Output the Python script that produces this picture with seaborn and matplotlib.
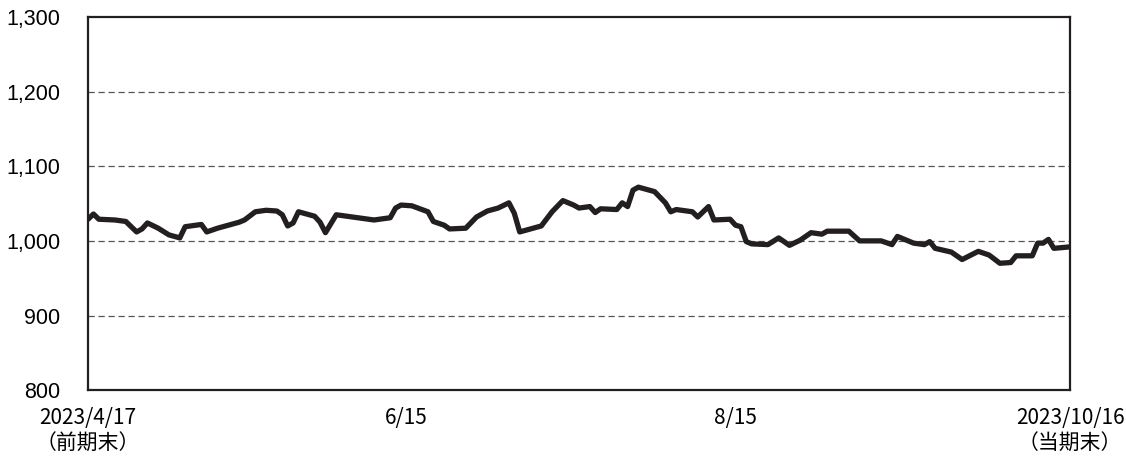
import pandas as pd
import seaborn as sns
import matplotlib.pyplot as plt

# Values (days after 2023/4/17, index level)
day_offsets = [0, 1, 2, 5, 7, 9, 10, 11, 13, 15, 17, 18, 21, 22, 24, 27, 28, 29,
               31, 33, 35, 36, 37, 38, 39, 42, 43, 44, 46, 49, 53, 56, 57, 58, 60,
               63, 64, 66, 67, 70, 72, 74, 76, 78, 79, 80, 82, 84, 86, 88, 90, 91,
               93, 94, 95, 98, 99, 100, 101, 102, 105, 107, 108, 109, 112, 113, 115,
               116, 119, 120, 121, 122, 123, 126, 128, 130, 132, 134, 136, 137, 141,
               143, 147, 149, 150, 153, 155, 156, 157, 160, 162, 165, 167, 169, 171,
               172, 175, 176, 177, 178, 179, 182]
values = [1029, 1036, 1029, 1028, 1026, 1012, 1016, 1024, 1017, 1008, 1004, 1019,
          1022, 1012, 1017, 1023, 1025, 1028, 1039, 1041, 1040, 1035, 1020, 1024,
          1039, 1033, 1025, 1011, 1035, 1032, 1028, 1031, 1044, 1048, 1047, 1039,
          1026, 1021, 1016, 1017, 1032, 1040, 1044, 1051, 1037, 1012, 1016, 1020,
          1039, 1054, 1048, 1044, 1046, 1038, 1043, 1042, 1051, 1046, 1068, 1072,
          1066, 1051, 1039, 1042, 1039, 1032, 1046, 1028, 1029, 1021, 1019, 999,
          996, 995, 1004, 994, 1001, 1011, 1009, 1013, 1013, 1000, 1000, 995, 1006,
          997, 995, 999, 990, 985, 975, 986, 981, 970, 971, 980, 980, 997, 997,
          1002, 990, 992]

tick_dates = ['2023-04-17', '2023-06-15', '2023-08-15', '2023-10-16']
tick_labels = ['2023/4/17\n（前期末）', '6/15', '8/15', '2023/10/16\n（当期末）']
y_ticks = [800, 900, 1000, 1100, 1200, 1300]

df = pd.DataFrame({
    'date': pd.Timestamp('2023-04-17') + pd.to_timedelta(day_offsets, unit='D'),
    'value': values,
})

sns.set_style('white')
plt.rcParams['font.family'] = ['Noto Sans CJK JP', 'DejaVu Sans']

ink = '#231f20'
fig = plt.figure(figsize=(11.26, 4.59), dpi=100)
ax = fig.add_axes([0.0782, 0.150, 0.8721, 0.813])

for y in y_ticks[1:-1]:
    ax.axhline(y, color='#555555', lw=0.9, ls=(0, (5, 3)), zorder=1)

sns.lineplot(data=df, x='date', y='value', ax=ax, color=ink, lw=3.8, zorder=3)

ax.set_xlim(pd.Timestamp(tick_dates[0]), pd.Timestamp(tick_dates[-1]))
ax.set_ylim(800, 1300)
ax.set_xticks(pd.to_datetime(tick_dates))
ax.set_xticklabels(tick_labels, fontsize=15, color='black', linespacing=1.25)
ax.set_yticks(y_ticks)
ax.set_yticklabels([f'{v:,}' for v in y_ticks], fontsize=15.5,
                   family=['Liberation Sans', 'DejaVu Sans'], color='black')
ax.tick_params(axis='x', direction='in', length=6, width=1.5, color=ink, pad=12)
ax.tick_params(axis='y', length=0, pad=20)
ax.set_xlabel('')
ax.set_ylabel('')

for s in ax.spines.values():
    s.set_color(ink)
    s.set_linewidth(1.6)

fig.savefig('out.png', dpi=100)
